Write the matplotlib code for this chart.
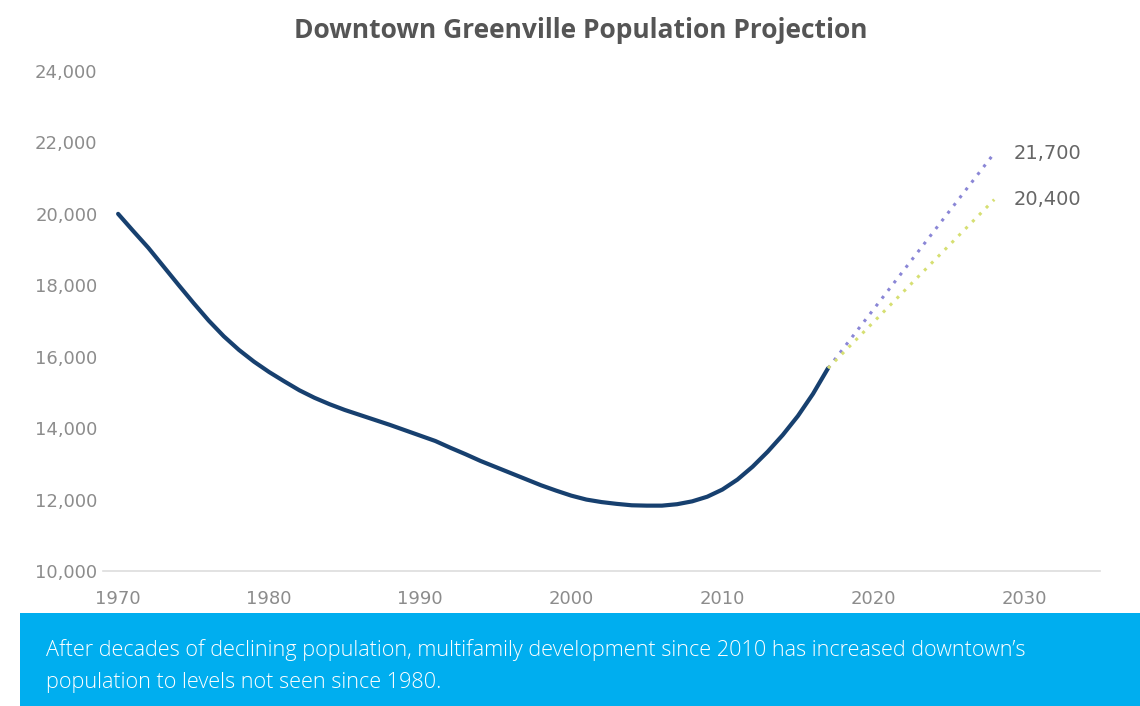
import matplotlib.pyplot as plt
from matplotlib.patches import Rectangle

plt.rcParams['font.family'] = ['DejaVu Sans']

# 历史人口
years = list(range(1970, 2018))
population = [20000, 19520, 19050, 18530, 18010, 17500, 17010, 16570, 16190, 15860,
              15570, 15310, 15060, 14850, 14670, 14510, 14370, 14230, 14090, 13940,
              13790, 13640, 13450, 13270, 13080, 12910, 12740, 12570, 12400, 12250,
              12110, 12000, 11930, 11880, 11840, 11830, 11830, 11870, 11950, 12080,
              12280, 12560, 12920, 13340, 13810, 14340, 14960, 15680]

# 预测
proj_years = [2017, 2028]
proj_high = [15680, 21700]
proj_low = [15680, 20400]

yticks = [10000, 12000, 14000, 16000, 18000, 20000, 22000, 24000]
xticks = [1970, 1980, 1990, 2000, 2010, 2020, 2030]

title = 'Downtown Greenville Population Projection'
caption = ('After decades of declining population, multifamily development since 2010 has increased downtown\u2019s\n'
           'population to levels not seen since 1980.')

fig = plt.figure(figsize=(11.4, 7.06), dpi=100)
ax = fig.add_axes([103 / 1140, 1 - 571 / 706, (1100 - 103) / 1140, 500 / 706])

ax.plot(years, population, color='#17406f', lw=3.0, solid_capstyle='round', solid_joinstyle='round')
ax.plot(proj_years, proj_high, color='#8a86d6', lw=2.2, ls=(0, (1, 2.2)))
ax.plot(proj_years, proj_low, color='#d6df72', lw=2.2, ls=(0, (1, 2.2)))

ax.annotate('21,700', (proj_years[1], proj_high[1]), xytext=(14, 0), textcoords='offset points',
            va='center', ha='left', fontsize=14, color='#666666')
ax.annotate('20,400', (proj_years[1], proj_low[1]), xytext=(14, 0), textcoords='offset points',
            va='center', ha='left', fontsize=14, color='#666666')

ax.set_xlim(1969, 2035)
ax.set_ylim(10000, 24000)
ax.set_yticks(yticks)
ax.set_yticklabels([f'{v:,}' for v in yticks])
ax.set_xticks(xticks)
ax.tick_params(length=0, labelsize=13, labelcolor='#8c8c8c')
ax.tick_params(axis='x', pad=14)
ax.tick_params(axis='y', pad=4)
for s in ['top', 'right', 'left']:
    ax.spines[s].set_visible(False)
ax.spines['bottom'].set_color('#dddddd')
ax.spines['bottom'].set_linewidth(1.2)

fig.text(581 / 1140, 1 - 30 / 706, title, ha='center', va='center', fontsize=19,
         fontweight='bold', color='#555555', family='Open Sans')

# 底部蓝色说明框
fig.patches.append(Rectangle((20 / 1140, 0), 1120 / 1140, 93 / 706, transform=fig.transFigure,
                             facecolor='#00aeef', edgecolor='none'))
fig.text(46 / 1140, 1 - 666 / 706, caption, ha='left', va='center', fontsize=15.6,
         color='white', family='Open Sans', fontweight='light', linespacing=1.7)

fig.savefig('out.png', dpi=100)
